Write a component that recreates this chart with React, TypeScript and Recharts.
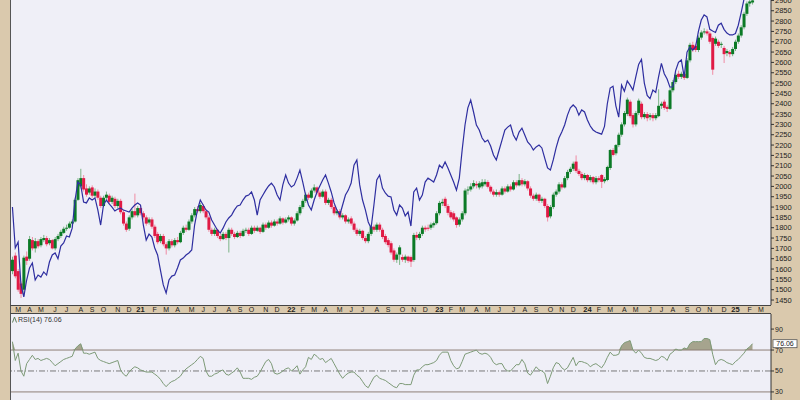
import React from "react"
import { ComposedChart, Bar, Line, Area, XAxis, YAxis, ReferenceLine } from "recharts"

const START_DATE = "2020-02-21"
const AXIS_WEEKS = 267

// weekly candles [open, high, low, close]
const candles: number[][] = [
  [1590,1660,1575,1645],[1665,1680,1555,1565],[1590,1600,1490,1500],[1530,1540,1460,1480],[1500,1665,1470,1655],
  [1660,1685,1620,1640],[1650,1760,1640,1745],[1740,1755,1690,1700],[1700,1750,1680,1735],[1735,1745,1700,1710],
  [1715,1755,1705,1745],[1740,1765,1730,1750],[1750,1760,1710,1720],[1725,1750,1715,1740],[1740,1745,1695,1700],
  [1700,1755,1690,1745],[1745,1770,1735,1760],[1760,1790,1750,1780],[1775,1805,1770,1795],[1795,1815,1785,1800],
  [1800,1830,1795,1820],[1820,1840,1810,1830],[1830,1945,1825,1935],[1935,2040,1930,2030],[2000,2085,1990,2040],
  [2040,2055,1975,1985],[1990,2010,1950,1960],[1970,2000,1960,1990],[1995,2005,1945,1955],[1955,1990,1945,1975],
  [1975,1985,1935,1945],[1945,1955,1895,1905],[1905,1955,1900,1945],[1945,1975,1935,1960],[1955,1965,1915,1925],
  [1925,1955,1915,1945],[1940,1950,1895,1905],[1905,1940,1895,1930],[1930,1940,1865,1875],[1875,1885,1810,1820],
  [1820,1830,1780,1790],[1795,1860,1785,1850],[1850,1890,1840,1880],[1880,1965,1850,1860],[1860,1905,1850,1895],
  [1895,1905,1860,1870],[1870,1880,1840,1850],[1850,1860,1810,1820],[1825,1850,1815,1840],[1840,1850,1795,1805],
  [1805,1815,1750,1760],[1770,1780,1720,1730],[1735,1770,1725,1760],[1760,1770,1710,1720],[1720,1730,1670,1700],
  [1700,1745,1690,1735],[1735,1745,1705,1715],[1715,1750,1705,1740],[1740,1755,1720,1730],[1730,1785,1725,1775],
  [1775,1810,1765,1800],[1800,1815,1780,1790],[1790,1840,1785,1830],[1830,1870,1820,1860],[1860,1900,1850,1890],
  [1890,1905,1870,1880],[1880,1920,1870,1910],[1905,1915,1870,1880],[1880,1890,1840,1850],[1850,1860,1780,1790],
  [1790,1800,1760,1770],[1770,1800,1760,1790],[1790,1795,1750,1760],[1760,1770,1735,1745],[1745,1780,1740,1770],
  [1770,1780,1740,1750],[1750,1800,1680,1790],[1790,1800,1760,1770],[1770,1780,1745,1755],[1755,1785,1750,1775],
  [1775,1785,1750,1760],[1760,1795,1755,1785],[1785,1800,1775,1790],[1790,1800,1760,1770],[1770,1810,1765,1800],
  [1800,1810,1775,1785],[1785,1810,1780,1800],[1800,1805,1770,1780],[1780,1825,1775,1815],[1815,1825,1790,1800],
  [1800,1835,1795,1825],[1825,1835,1800,1810],[1810,1840,1805,1830],[1830,1840,1810,1820],[1820,1855,1815,1845],
  [1845,1850,1815,1825],[1825,1850,1820,1840],[1840,1860,1830,1850],[1850,1855,1810,1820],[1820,1845,1810,1835],
  [1835,1880,1830,1870],[1870,1910,1860,1900],[1900,1940,1890,1930],[1930,1970,1920,1960],[1960,1970,1935,1945],
  [1945,1990,1940,1980],[1980,2010,1970,1995],[1995,2000,1960,1970],[1970,1980,1940,1950],[1950,1985,1945,1975],
  [1975,1985,1910,1920],[1920,1945,1910,1935],[1935,1945,1890,1900],[1900,1910,1860,1870],[1870,1890,1860,1880],
  [1880,1890,1840,1850],[1850,1870,1840,1860],[1860,1865,1820,1830],[1830,1850,1820,1840],[1845,1855,1810,1820],
  [1820,1830,1780,1790],[1790,1800,1760,1770],[1770,1795,1760,1785],[1785,1790,1740,1750],[1750,1760,1725,1735],
  [1735,1780,1725,1770],[1770,1815,1760,1805],[1805,1815,1780,1790],[1790,1825,1780,1815],[1815,1825,1780,1790],
  [1790,1800,1745,1755],[1760,1770,1720,1730],[1740,1750,1705,1716],[1725,1735,1670,1680],[1690,1700,1635,1645],
  [1645,1680,1630,1670],[1670,1715,1620,1705],[1658,1670,1635,1645],[1645,1670,1630,1660],[1660,1665,1630,1640],
  [1658,1665,1610,1636],[1644,1775,1635,1765],[1765,1780,1740,1752],[1750,1780,1740,1770],[1770,1810,1760,1800],
  [1800,1810,1780,1792],[1800,1815,1785,1795],[1800,1825,1790,1815],[1812,1830,1800,1822],[1822,1880,1815,1870],
  [1870,1930,1860,1920],[1918,1940,1905,1925],[1940,1950,1895,1905],[1905,1915,1860,1872],[1875,1885,1840,1850],
  [1870,1880,1830,1840],[1850,1855,1800,1813],[1815,1850,1805,1840],[1840,1880,1830,1870],[1870,1990,1860,1980],
  [1980,2000,1960,1985],[1985,2015,1975,2000],[2000,2030,1990,2016],[2012,2025,1990,2005],[1995,2025,1985,2015],
  [2000,2035,1990,2020],[2010,2035,2000,2022],[2021,2030,1990,1998],[1998,2005,1965,1975],[1975,1985,1950,1960],
  [1960,1985,1950,1972],[1972,1980,1950,1960],[1960,2000,1955,1990],[1990,2000,1965,1975],[1975,2010,1970,2000],
  [2000,2010,1975,1985],[1985,2030,1980,2020],[2020,2030,1995,2005],[2005,2060,2000,2030],[2030,2040,2000,2010],
  [2010,2035,2000,2025],[2025,2030,1980,1990],[1990,2000,1945,1955],[1955,1965,1930,1940],[1940,1970,1930,1960],
  [1960,1965,1920,1930],[1930,1950,1920,1940],[1940,1945,1895,1905],[1905,1915,1830,1850],[1855,1910,1845,1900],
  [1900,1970,1890,1960],[1960,1985,1950,1975],[1975,2020,1965,2010],[2010,2020,1985,1995],[1995,2050,1990,2040],
  [2040,2080,2030,2070],[2070,2095,2060,2085],[2085,2120,2075,2110],[2120,2150,2065,2075],[2075,2085,2050,2060],
  [2060,2070,2030,2040],[2040,2065,2030,2055],[2055,2060,2020,2030],[2030,2055,2020,2045],[2045,2050,2010,2020],
  [2020,2050,2010,2040],[2040,2050,2020,2030],[2055,2060,1992,2022],[2025,2045,2015,2035],[2031,2100,2025,2094],
  [2089,2180,2080,2176],[2176,2185,2145,2152],[2160,2205,2150,2200],[2200,2260,2190,2250],[2250,2310,2240,2300],
  [2300,2365,2290,2355],[2350,2430,2340,2420],[2410,2420,2330,2340],[2345,2355,2285,2300],[2300,2365,2290,2355],
  [2355,2425,2345,2415],[2400,2410,2325,2335],[2335,2360,2325,2350],[2350,2360,2315,2330],[2335,2355,2320,2345],
  [2345,2355,2315,2330],[2330,2355,2320,2345],[2340,2470,2335,2390],[2390,2410,2375,2400],[2410,2420,2370,2380],
  [2385,2395,2360,2375],[2375,2475,2370,2465],[2465,2515,2455,2505],[2505,2550,2495,2540],[2545,2560,2520,2530],
  [2530,2555,2520,2545],[2545,2555,2515,2525],[2525,2620,2520,2610],[2610,2695,2600,2685],[2685,2700,2650,2660],
  [2680,2690,2650,2660],[2660,2730,2650,2720],[2720,2755,2710,2745],[2745,2765,2735,2750],[2750,2760,2730,2740],
  [2740,2750,2690,2700],[2718,2725,2540,2565],[2690,2725,2680,2715],[2700,2710,2670,2680],[2685,2700,2670,2690],
  [2670,2680,2597,2640],[2645,2665,2630,2655],[2650,2660,2625,2640],[2640,2675,2630,2665],[2665,2710,2655,2700],
  [2700,2740,2690,2730],[2730,2780,2720,2770],[2770,2845,2760,2835],[2835,2895,2825,2885],[2885,2905,2870,2895],
  [2890,2910,2880,2900],
]

// comparison line, read on the price scale
const comparison: number[] = [
  1900,1702,1731,1523,1465,1547,1605,1629,1547,1571,
  1561,1586,1571,1634,1668,1678,1650,1711,1726,1760,
  1755,1798,1934,2021,2007,1924,1920,1944,1934,1944,
  1886,1813,1910,1934,1915,1900,1881,1890,1895,1886,
  1881,1876,1895,1910,1920,1910,1813,1740,1769,1755,
  1702,1668,1595,1523,1484,1547,1566,1571,1605,1644,
  1653,1668,1678,1692,1813,1886,1934,1910,1886,1876,
  1837,1813,1789,1774,1798,1828,1847,1861,1886,1905,
  1910,1934,1953,1958,1973,1934,1861,1934,1958,1982,
  2002,2016,1997,1958,1934,2007,2055,2016,1997,2007,
  2040,2079,2021,1958,1910,1886,1934,1973,2002,2031,
  2055,2016,1973,1920,1886,1861,1910,1958,1982,2016,
  2103,2128,2007,1934,1886,1828,1798,1910,2031,2055,
  1992,1968,1953,1949,1886,1861,1910,1895,1857,1876,
  1808,1973,1992,1934,1958,2021,2040,2031,2021,2055,
  2103,2089,2118,2089,2055,2021,1982,2040,2176,2297,
  2380,2418,2360,2297,2273,2234,2215,2224,2195,2152,
  2128,2176,2224,2273,2287,2297,2249,2224,2263,2282,
  2249,2215,2200,2176,2191,2200,2186,2137,2089,2079,
  2128,2186,2234,2263,2297,2345,2380,2394,2380,2345,
  2370,2360,2321,2292,2273,2263,2258,2253,2290,2400,
  2476,2485,2390,2335,2490,2460,2510,2490,2466,2530,
  2590,2615,2500,2440,2425,2466,2455,2530,2595,2545,
  2520,2480,2482,2560,2600,2612,2530,2650,2675,2660,
  2675,2750,2805,2830,2820,2760,2752,2745,2780,2790,
  2760,2742,2733,2733,2740,2780,2840,2905,2950,2985,
  3010,
]

const rsi14: number[] = [
  78,60,67,50,45,57,61,65,61,62,
  60,61,62,61,58,55,57,59,61,62,
  63,64,71,74,76,67,67,66,67,68,
  62,60,59,58,57,58,59,60,51,47,
  45,49,52,54,53,51,50,49,49,49,
  47,45,42,38,35,38,40,41,43,45,
  49,52,54,56,58,61,64,62,50,45,
  45,47,48,50,51,47,46,48,50,53,
  49,43,43,43,42,44,45,49,54,59,
  61,57,48,47,48,50,52,53,50,52,
  55,47,51,54,63,61,66,64,61,62,
  58,60,62,57,52,47,43,46,48,49,
  49,46,44,40,36,34,39,44,46,43,
  42,41,39,37,35,34,38,38,37,37,
  37,46,51,51,54,56,56,57,58,60,
  65,68,68,68,60,55,52,53,59,66,
  67,68,69,70,67,66,67,66,63,58,
  56,57,57,52,50,50,53,56,56,61,
  57,48,46,50,54,51,50,48,38,45,
  53,58,57,53,51,53,58,63,55,59,
  59,58,57,54,56,57,55,53,57,63,
  68,65,65,66,74,77,78,79,70,67,
  70,67,63,62,62,61,60,61,64,63,
  60,66,68,71,70,70,72,71,76,78,
  78,78,78,81,81,80,66,56,60,61,
  60,58,57,56,59,61,64,67,71,73,
  76.06,
]

const priceTicks = [
  1450, 1500, 1550, 1600, 1650, 1700, 1750, 1800, 1850, 1900,
  1950, 2000, 2050, 2100, 2150, 2200, 2250, 2300, 2350, 2400,
  2450, 2500, 2550, 2600, 2650, 2700, 2750, 2800, 2850, 2900,
]
const rsiTicks = [30, 50, 70, 90]
const monthLetters = ["J", "F", "M", "A", "M", "J", "J", "A", "S", "O", "N", "D"]

const FONT = "'Liberation Sans', Arial, sans-serif"
const BEIGE = "#dac9ad"
const PLOT_BG = "#efeff7"

const start = new Date(START_DATE + "T00:00:00Z").getTime()
const rows = Array.from({ length: AXIS_WEEKS }, (_, i) => {
  const d = new Date(start + i * 7 * 86400000)
  const c = candles[i]
  return {
    i,
    month: d.getUTCMonth(),
    year: d.getUTCFullYear(),
    open: c ? c[0] : null,
    high: c ? c[1] : null,
    low: c ? c[2] : null,
    close: c ? c[3] : null,
    range: c ? [c[2], c[1]] : null,
    cmp: i < comparison.length ? comparison[i] : null,
    rsi: i < rsi14.length ? rsi14[i] : null,
  }
})

const monthTicks = rows.filter((r, k) => k > 0 && r.month !== rows[k - 1].month).map((r) => r.i)
const lastRsi = rsi14[rsi14.length - 1]

const MonthTick = (props: any) => {
  const { x, y, payload } = props
  const r = rows[payload.value]
  if (!r) return null
  const jan = r.month === 0
  const label = jan ? String(r.year % 100).padStart(2, "0") : monthLetters[r.month]
  return (
    <text x={x} y={y + 4.5} textAnchor="middle" dominantBaseline="central" fontSize={jan ? 7.5 : 7}
      fontWeight={jan ? "bold" : "normal"} fill="#222" fontFamily={FONT}>
      {label}
    </text>
  )
}

const Candle = (props: any) => {
  const { x, y, width, height, payload } = props
  if (!payload || payload.open == null) return null
  const { open, high, low, close } = payload
  const top = Math.min(y, y + height)
  const h = Math.abs(height)
  const span = high - low || 1
  const py = (p: number) => top + ((high - p) / span) * h
  const cx = x + width / 2
  const up = close >= open
  const body = up ? "#0b7a26" : "#e01a45"
  const wick = up ? "#7cb487" : "#f08ca4"
  const b1 = py(Math.max(open, close))
  const b2 = py(Math.min(open, close))
  const bw = 3
  return (
    <g>
      <line x1={cx} x2={cx} y1={top} y2={top + h} stroke={wick} strokeWidth={1} />
      <rect x={cx - bw / 2} y={b1} width={bw} height={Math.max(1, b2 - b1)} fill={body} />
    </g>
  )
}

const RsiBadge = (props: any) => {
  const vb = props.viewBox
  if (!vb) return null
  const x = vb.x + vb.width + 2
  const y = vb.y
  return (
    <g>
      <rect x={x} y={y - 4} width={24} height={8} fill="#ffffff" stroke="#555" strokeWidth={0.8} />
      <text x={x + 12} y={y + 0.3} textAnchor="middle" dominantBaseline="central" fontSize={7} fill="#222" fontFamily={FONT}>
        {lastRsi.toFixed(2)}
      </text>
    </g>
  )
}

const overbought = (d: any) => (d.rsi == null ? null : [70, Math.max(70, d.rsi)])

export default function App() {
  return (
    <div style={{ position: "absolute", left: 0, top: 0, width: 800, height: 400, background: BEIGE, overflow: "hidden" }}>
      <div style={{ position: "absolute", left: 10, top: 0, width: 761, height: 305, background: PLOT_BG, borderLeft: "1px solid #555", boxSizing: "border-box" }} />
      <div style={{ position: "absolute", left: 10, top: 305, width: 761, height: 9, background: BEIGE, borderTop: "1px solid #444", borderBottom: "1px solid #444", borderLeft: "1px solid #555", boxSizing: "border-box" }} />
      <div style={{ position: "absolute", left: 10, top: 314, width: 761, height: 86, background: PLOT_BG, borderLeft: "1px solid #555", boxSizing: "border-box" }} />

      <div style={{ position: "absolute", left: 0, top: 0 }}>
        <ComposedChart width={800} height={314} data={rows} margin={{ top: 0, right: 0, bottom: 0, left: 11 }} barCategoryGap={0} barGap={0}>
          <XAxis dataKey="i" type="category" scale="band" ticks={monthTicks} interval={0} tick={<MonthTick />}
            tickLine={false} axisLine={false} tickSize={0} tickMargin={0} height={9} />
          <YAxis orientation="right" domain={[1426, 2902]} ticks={priceTicks} interval={0} allowDataOverflow width={29}
            tick={{ fontSize: 7.5, fill: "#222", fontFamily: FONT }} tickSize={3} tickMargin={1}
            tickLine={{ stroke: "#333" }} axisLine={{ stroke: "#333" }} />
          <Bar dataKey="range" shape={(p: any) => <Candle {...p} />} isAnimationActive={false} />
          <Line dataKey="cmp" type="linear" stroke="#2e2ea0" strokeWidth={1.2} dot={false} isAnimationActive={false} />
        </ComposedChart>
      </div>

      <div style={{ position: "absolute", left: 0, top: 314 }}>
        <ComposedChart width={800} height={86} data={rows} margin={{ top: 0, right: 0, bottom: 0, left: 11 }}>
          <XAxis dataKey="i" type="category" scale="band" hide />
          <YAxis orientation="right" domain={[22.3, 104.4]} ticks={rsiTicks} interval={0} allowDataOverflow width={29}
            tick={{ fontSize: 7, fill: "#222", fontFamily: FONT }} tickSize={3} tickMargin={1}
            tickLine={{ stroke: "#333" }} axisLine={{ stroke: "#333" }} />
          <ReferenceLine y={70} stroke="#8e7f76" />
          <ReferenceLine y={30} stroke="#8e7f76" />
          <ReferenceLine y={50} stroke="#7a7a7a" strokeDasharray="6 2 1 2" />
          <Area dataKey={overbought} type="linear" fill="#a6a48e" fillOpacity={1} stroke="none" isAnimationActive={false} />
          <Line dataKey="rsi" type="linear" stroke="#7d9a77" strokeWidth={1} dot={false} isAnimationActive={false} />
          <ReferenceLine y={lastRsi} stroke="none" label={(p: any) => <RsiBadge {...p} />} />
        </ComposedChart>
      </div>

      <svg style={{ position: "absolute", left: 11, top: 314 }} width={90} height={12}>
        <polyline points="1.5,8.5 3.5,3 5.5,8.5" fill="none" stroke="#5f7f5c" strokeWidth={1} />
        <text x={7} y={5.5} dominantBaseline="central" fontSize={7} fill="#333" fontFamily={FONT}>
          RSI(14) {lastRsi.toFixed(2)}
        </text>
      </svg>
    </div>
  )
}
